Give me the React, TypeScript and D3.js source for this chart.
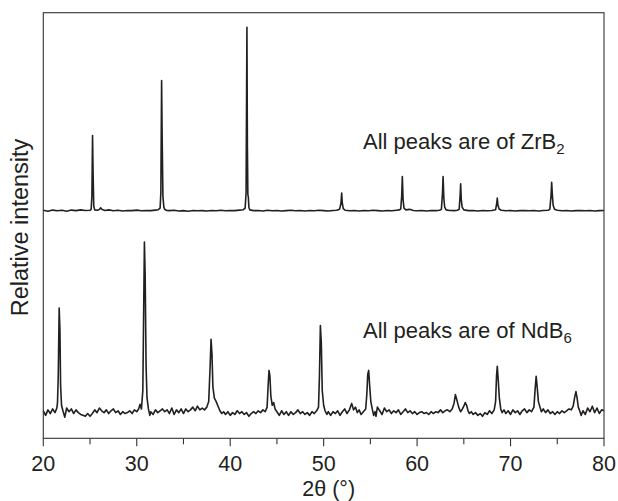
import React from "react";
import { scaleLinear, line, range } from "d3";

// 2θ (°) vs intensity. intensity is relative to each pattern's own baseline
const zrb2Pattern: [number, number][] = [
  [20.0, 0.3], [20.5, -0.2], [21.0, 0.4], [21.5, 0], [22.0, 0.3], [22.5, -0.2], [23.0, 0.4],
  [23.5, 0.1], [24.0, 0.5], [24.5, 0.2], [25.0, 0.3], [25.12, 0.8], [25.2, 8], [25.27, 41],
  [25.33, 20], [25.4, 2.5], [25.5, 0.5], [25.8, 0.3], [26.0, 0.8], [26.14, 1.6], [26.3, 0.7],
  [26.6, 0.2], [27.0, 0.5], [27.5, 0], [28.0, 0.3], [28.5, -0.1], [29.0, 0.2], [29.5, 0.1],
  [30.0, 0.4], [30.5, 0], [31.0, 0.2], [31.5, 0.1], [32.0, 0.4], [32.3, 0.6], [32.5, 1.5],
  [32.58, 10], [32.66, 71], [32.72, 40], [32.8, 8], [32.9, 2], [33.0, 0.8], [33.2, 0.2],
  [33.5, 0.1], [34.0, 0.3], [34.5, -0.1], [35.0, 0.1], [35.5, -0.2], [36.0, 0.2], [36.5, 0],
  [37.0, 0.1], [37.5, -0.1], [38.0, 0.2], [38.5, 0], [39.0, 0.3], [39.5, 0], [40.0, 0.2],
  [40.5, 0.1], [41.0, 0.4], [41.4, 0.6], [41.6, 1.5], [41.7, 10], [41.79, 100], [41.84, 35],
  [41.89, 9], [41.94, 7.5], [42.0, 2], [42.1, 0.5], [42.5, 0.1], [43.0, 0.2], [43.5, -0.1],
  [44.0, 0.3], [44.5, 0], [45.0, 0.2], [45.5, -0.1], [46.0, 0.1], [46.5, 0.3], [47.0, 0],
  [47.5, 0.2], [48.0, -0.1], [48.5, 0.2], [49.0, 0], [49.5, 0.3], [50.0, 0.1], [50.5, -0.1],
  [51.0, 0.2], [51.4, 0.3], [51.7, 0.8], [51.85, 4], [51.93, 9.7], [52.0, 4], [52.1, 1.2],
  [52.3, 0.3], [52.8, 0], [53.3, 0.2], [53.8, -0.1], [54.3, 0.2], [54.8, 0], [55.3, 0.3],
  [55.8, 0.1], [56.3, -0.1], [56.8, 0.2], [57.3, 0], [57.8, 0.3], [58.1, 0.5], [58.25, 1],
  [58.35, 8], [58.42, 18.7], [58.5, 6], [58.6, 1.5], [58.8, 0.5], [59.2, 0.8], [59.6, 0.2],
  [60.0, 0], [60.5, 0.2], [61.0, -0.1], [61.5, 0.2], [62.0, 0.1], [62.4, 0.3], [62.6, 0.8],
  [62.72, 10], [62.78, 18.7], [62.86, 7], [62.95, 2], [63.1, 0.5], [63.5, 0.2], [64.0, 0.1],
  [64.3, 0.3], [64.5, 0.8], [64.6, 8], [64.66, 14.7], [64.73, 6], [64.82, 2], [65.0, 0.5],
  [65.5, 0.1], [66.0, 0.2], [66.5, -0.1], [67.0, 0.2], [67.5, 0], [68.0, 0.2], [68.4, 0.6],
  [68.52, 4], [68.58, 6.9], [68.65, 3], [68.78, 1], [69.0, 0.3], [69.5, 0], [70.0, 0.2],
  [70.5, -0.1], [71.0, 0.1], [71.5, 0.2], [72.0, 0], [72.5, 0.2], [73.0, -0.1], [73.5, 0.2],
  [74.0, 0.3], [74.2, 0.8], [74.33, 8], [74.4, 15.5], [74.47, 9], [74.56, 3], [74.7, 0.8],
  [75.0, 0.3], [75.5, 0], [76.0, 0.2], [76.5, -0.1], [77.0, 0.1], [77.5, 0.2], [78.0, 0],
  [78.5, 0.2], [79.0, -0.1], [79.5, 0.1], [80.0, 0.2],
];

const ndb6Pattern: [number, number][] = [
  [20.0, 1.0], [20.25, -1.5], [20.5, 1.5], [20.75, -0.5], [21.0, 2.0], [21.25, 0.0],
  [21.45, 2.5], [21.52, 5.5], [21.6, 20], [21.7, 57], [21.78, 45], [21.85, 15], [21.95, 4],
  [22.1, 1], [22.3, -2.5], [22.5, 2.5], [22.75, 0.5], [23.0, 2.0], [23.25, -0.5], [23.5, 1.5],
  [23.75, 0], [24.0, -1], [24.25, -1.5], [24.5, -2], [24.75, -0.5], [25.0, -2], [25.25, -0.5],
  [25.5, 1.5], [25.75, 0], [26.0, 2.5], [26.25, 1], [26.5, 0], [26.75, 1.5], [27.0, -0.5],
  [27.25, 1], [27.5, 2], [27.75, 0], [28.0, 1], [28.25, -1], [28.5, 0.5], [28.75, -0.5],
  [29.0, 0], [29.25, 1], [29.5, -0.5], [29.75, 1.5], [30.0, 0.5], [30.2, 2], [30.35, 4.5],
  [30.5, 2], [30.65, 12], [30.75, 60], [30.82, 93], [30.9, 75], [31.0, 25], [31.1, 8],
  [31.25, 2], [31.4, -1.5], [31.5, 0.5], [31.75, -1], [32.0, 1.5], [32.25, 0], [32.5, 1],
  [32.75, 2], [33.0, 0.5], [33.25, 1.5], [33.5, -0.5], [33.75, 2.5], [34.0, -1], [34.25, 1.5],
  [34.5, 0], [34.75, 2], [35.0, -0.5], [35.25, 2], [35.5, 0.5], [35.75, 1.5], [36.0, 3],
  [36.25, 1], [36.5, 3.5], [36.75, 1.5], [37.0, 2.5], [37.25, 1.5], [37.5, 3], [37.7, 6],
  [37.85, 25], [37.95, 40], [38.05, 32], [38.15, 14], [38.3, 8], [38.5, 6], [38.7, 3.5],
  [38.9, 1], [39.1, -0.5], [39.3, 0.5], [39.5, -1], [39.75, 0.5], [40.0, -1.5], [40.25, 0],
  [40.5, -1], [40.75, 1], [41.0, -0.5], [41.25, 0.5], [41.5, -1], [41.75, 0], [42.0, -2],
  [42.25, -0.5], [42.5, 0.5], [42.75, -0.5], [43.0, 1], [43.25, 0], [43.5, 1.5], [43.75, 0.5],
  [43.95, 3], [44.05, 14], [44.15, 23], [44.25, 20], [44.35, 9], [44.5, 4], [44.65, 5.5],
  [44.8, 2], [45.0, 0.5], [45.25, -1.5], [45.5, 1], [45.75, -1], [46.0, 0.5], [46.25, -1.5],
  [46.5, 0.5], [46.75, -1], [47.0, 0], [47.25, 1.5], [47.5, -0.5], [47.75, 0.5], [48.0, -1],
  [48.25, 0], [48.5, -1.5], [48.75, 0.5], [49.0, -0.5], [49.25, 1], [49.45, 3], [49.55, 20],
  [49.65, 47.5], [49.75, 38], [49.85, 12], [50.0, 4], [50.15, 1], [50.35, -1], [50.5, 0.5],
  [50.75, -1.5], [51.0, 0.5], [51.25, -0.5], [51.5, 1], [51.75, -1.5], [52.0, 0.5], [52.25, 2],
  [52.5, -0.5], [52.75, 1.5], [53.0, 5], [53.2, 1.5], [53.4, 3], [53.6, 0], [53.8, 1.5],
  [54.0, -1], [54.25, 0.5], [54.5, 2], [54.62, 10], [54.72, 21], [54.82, 23], [54.92, 15],
  [55.05, 6], [55.2, 2], [55.35, -1.5], [55.5, 0.5], [55.6, -2], [55.75, 3], [56.0, 1],
  [56.25, -1], [56.5, 2.5], [56.75, 0.5], [57.0, 1.5], [57.25, -0.5], [57.5, 1], [57.75, 0],
  [58.0, 1.5], [58.25, -1], [58.5, 0.5], [58.75, 2], [59.0, 0], [59.25, 1], [59.5, -0.5],
  [59.75, 0.5], [60.0, -1], [60.25, 0], [60.5, 0.5], [60.75, -0.5], [61.0, 0], [61.25, -1],
  [61.5, 0.5], [61.75, -0.5], [62.0, 0.5], [62.25, 0], [62.5, 1.5], [62.75, 0], [63.0, 1],
  [63.25, 1.5], [63.5, 0.5], [63.75, 2], [63.95, 5], [64.1, 9.8], [64.25, 7], [64.45, 3],
  [64.65, 0.5], [64.85, 2], [65.0, 3.5], [65.15, 5.5], [65.3, 4], [65.45, 1], [65.6, -0.5],
  [65.8, 0.5], [66.0, -1], [66.25, 0], [66.5, -1.5], [66.75, -0.5], [67.0, -2], [67.25, 0],
  [67.5, -1], [67.75, 1], [68.0, -0.5], [68.25, 1.5], [68.4, 6], [68.5, 20], [68.58, 25.3],
  [68.68, 18], [68.8, 8], [68.95, 2], [69.1, 0], [69.3, 1.5], [69.5, -0.5], [69.75, 1],
  [70.0, -1], [70.25, 1.5], [70.5, 0], [70.75, 1], [71.0, -1], [71.25, 1], [71.5, 2],
  [71.75, 0], [72.0, 1.5], [72.25, 0.5], [72.5, 3], [72.62, 12], [72.74, 19.8], [72.85, 14],
  [72.98, 6], [73.15, 3], [73.3, 0.5], [73.5, 2], [73.75, 0], [74.0, 1.5], [74.25, -0.5],
  [74.5, 0.5], [74.75, -1], [75.0, 0.5], [75.25, -0.5], [75.5, 1], [75.75, 0], [76.0, 1],
  [76.25, 2], [76.5, 1.5], [76.7, 3.5], [76.85, 8], [77.0, 11.5], [77.12, 8], [77.25, 3],
  [77.4, 1], [77.55, -1.5], [77.75, 1], [78.0, -1], [78.25, 2.5], [78.5, 0.5], [78.75, 3.5],
  [79.0, 0], [79.25, 2.5], [79.5, -0.5], [79.75, 1.5], [80.0, 1.0],
];

// vertical stacking offsets of the two patterns
const offsets = { zrb2: 124, ndb6: 14 };
const xDomain: [number, number] = [20, 80];
const yDomain: [number, number] = [0, 232];
const majorTicks = [20, 30, 40, 50, 60, 70, 80];

const width = 618;
const height = 501;
const margin = { top: 12.7, right: 14, bottom: 62.7, left: 43.3 };
const font = "'Liberation Sans', Arial, Helvetica, sans-serif";
const ink = "#231f20";

function Trace({ data, offset, x, y }) {
  const path = line<[number, number]>()
    .x((d) => x(d[0]))
    .y((d) => y(d[1] + offset));
  return <path d={path(data) ?? ""} fill="none" stroke={ink} strokeWidth={1.6} strokeLinejoin="round" />;
}

export default function App() {
  const innerW = width - margin.left - margin.right;
  const innerH = height - margin.top - margin.bottom;
  const x = scaleLinear().domain(xDomain).range([0, innerW]);
  const y = scaleLinear().domain(yDomain).range([innerH, 0]);
  const minorTicks = range(25, 80, 10);

  return (
    <svg
      width={width}
      height={height}
      style={{ position: "absolute", left: 0, top: 0, background: "#fff" }}
      fontFamily={font}
    >
      <g transform={`translate(${margin.left}, ${margin.top})`}>
        <Trace data={zrb2Pattern} offset={offsets.zrb2} x={x} y={y} />
        <Trace data={ndb6Pattern} offset={offsets.ndb6} x={x} y={y} />

        <rect x={0} y={0} width={innerW} height={innerH} fill="none" stroke="#333" strokeWidth={1.1} />

        {majorTicks.map((t) => (
          <g key={`maj-${t}`} transform={`translate(${x(t)}, ${innerH})`}>
            <line y1={0} y2={8} stroke="#333" strokeWidth={1.1} />
            <text y={33} textAnchor="middle" fontSize={21.5} fill={ink}>{t}</text>
          </g>
        ))}
        {minorTicks.map((t) => (
          <line key={`min-${t}`} x1={x(t)} x2={x(t)} y1={innerH} y2={innerH + 6} stroke="#333" strokeWidth={1.1} />
        ))}

        <text x={x(50) + 5} y={innerH + 58} textAnchor="middle" fontSize={21.5} fill={ink}>
          2θ (°)
        </text>
        <text
          transform={`translate(${28 - margin.left}, ${innerH / 2 + 2}) rotate(-90)`}
          textAnchor="middle"
          fontSize={23.5}
          fill={ink}
        >
          Relative intensity
        </text>

        <text x={363 - margin.left} y={149 - margin.top} fontSize={22} fill={ink}>
          All peaks are of ZrB<tspan dy={5} fontSize={15}>2</tspan>
        </text>
        <text x={363 - margin.left} y={338 - margin.top} fontSize={22} fill={ink}>
          All peaks are of NdB<tspan dy={5} fontSize={15}>6</tspan>
        </text>
      </g>
    </svg>
  );
}
